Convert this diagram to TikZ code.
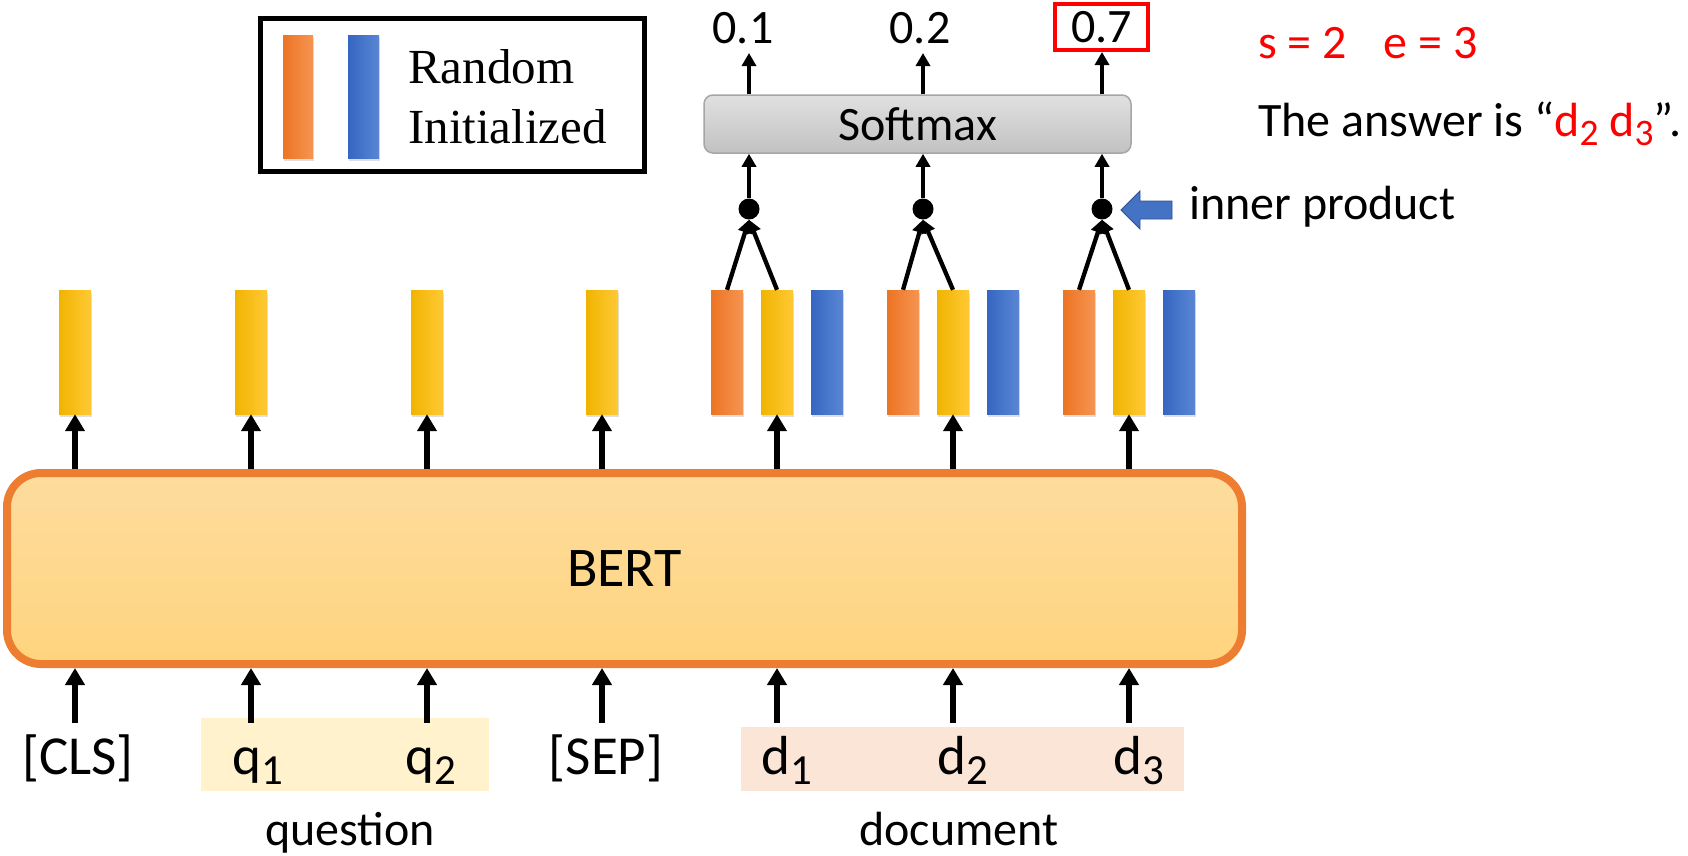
\documentclass[tikz,border=0pt]{standalone}
\usepackage{fontspec}
\usepackage{graphicx}
\setmainfont{Carlito}
\newfontfamily\timesf{Liberation Serif}
\usetikzlibrary{arrows.meta,shadows}
\definecolor{yelL}{HTML}{F0B400}
\definecolor{yelR}{HTML}{FFC935}
\definecolor{orgL}{HTML}{EC7424}
\definecolor{orgR}{HTML}{F59552}
\definecolor{bluL}{HTML}{3566C2}
\definecolor{bluR}{HTML}{5A86D3}
\definecolor{bertO}{HTML}{ED7D31}
\definecolor{bertT}{HTML}{FDDC9E}
\definecolor{bertB}{HTML}{FFD47E}
\definecolor{qfill}{HTML}{FFF2CC}
\definecolor{dfill}{HTML}{FBE5D6}
\definecolor{ipblue}{HTML}{4472C4}
\definecolor{ipedge}{HTML}{2F528F}
\newcommand\sbs[1]{\raisebox{-0.19em}{\scalebox{0.78}{#1}}}
\begin{document}
\begin{tikzpicture}[x=1pt,y=-1pt,
  bar/.style={minimum width=32pt,minimum height=124pt,inner sep=0pt,
    drop shadow={shadow xshift=0.5pt,shadow yshift=-3pt,opacity=0.25}},
  ybar/.style={bar,left color=yelL,right color=yelR},
  obar/.style={bar,left color=orgL,right color=orgR},
  bbar/.style={bar,left color=bluL,right color=bluR},
  bigarr/.style={line width=5.5pt,-{Triangle[width=19pt,length=17pt]}},
  smallarr/.style={line width=4.3pt,-{Triangle[width=14pt,length=13pt]}},
  tok/.style={font=\fontsize{55}{62}\selectfont,inner xsep=0pt,inner ysep=10pt,
    anchor=base,text height=41pt,text depth=12pt},
  dotn/.style={circle,fill=black,minimum size=21pt,inner sep=0pt},
  numn/.style={minimum width=93pt,minimum height=46pt,inner sep=0pt,line width=4pt},
  txt/.style={font=\fontsize{48}{58}\selectfont,inner sep=0pt,anchor=base west},
  hl/.style={inner sep=0pt}
]
\fill[white] (0,0) rectangle (1688,855);
\useasboundingbox (0,0) rectangle (1688,855);

% highlight boxes
\node[hl,fill=qfill,minimum width=288pt,minimum height=73pt] (qbox) at (345,754.5) {};
\node[hl,fill=dfill,minimum width=443pt,minimum height=64pt] (dbox) at (962.5,759) {};

% BERT
\node[draw=bertO,line width=8pt,rounded corners=34pt,top color=bertT,bottom color=bertB,
  minimum width=1235pt,minimum height=191pt,font=\fontsize{56}{60}\selectfont] (bert) at (624.5,568.5) {BERT};

% yellow bars
\node[ybar] (y1) at (75,352) {};
\node[ybar] (y2) at (251,352) {};
\node[ybar] (y3) at (427,352) {};
\node[ybar] (y4) at (602,352) {};
\node[ybar] (y5) at (777,352) {};
\node[ybar] (y6) at (953,352) {};
\node[ybar] (y7) at (1129,352) {};
% orange / blue bars
\node[obar] (o5) at (727,352) {};
\node[obar] (o6) at (903,352) {};
\node[obar] (o7) at (1079,352) {};
\node[bbar] (b5) at (827,352) {};
\node[bbar] (b6) at (1003,352) {};
\node[bbar] (b7) at (1179,352) {};

% tokens
\node[tok] (t1) at (78,774) {[CLS]};
\node[tok] (t2) at (258,774) {q\sbs{1}};
\node[tok] (t3) at (431,774) {q\sbs{2}};
\node[tok] (t4) at (606,774) {[SEP]};
\node[tok] (t5) at (787,774) {d\sbs{1}};
\node[tok] (t6) at (963,774) {d\sbs{2}};
\node[tok] (t7) at (1139,774) {d\sbs{3}};
\node[txt,anchor=base] (qlab) at (350,845) {question};
\node[txt,anchor=base] (dlab) at (959,845) {document};

% arrows into BERT and out of BERT
\foreach \i in {1,...,7}{
  \draw[bigarr] (t\i.north -| y\i) -- (bert.south -| y\i);
  \draw[bigarr] (bert.north -| y\i) -- (y\i.south);
}

% dots
\node[dotn] (p5) at (749,209) {};
\node[dotn] (p6) at (923,209) {};
\node[dotn] (p7) at (1102,209) {};
\foreach \i in {5,6,7}{
  \draw[smallarr] (o\i.north) -- (p\i.south);
  \draw[smallarr] (y\i.north) -- (p\i.south);
}

% softmax
\node[draw=black!35,line width=1.5pt,rounded corners=9pt,top color=black!12,bottom color=black!24,
  minimum width=427pt,minimum height=58pt,font=\fontsize{48}{58}\selectfont] (sm) at (917.5,124) {Softmax};
\foreach \i in {5,6,7}{
  \draw[smallarr] (p\i.north) -- (p\i.north |- sm.south);
}

% outputs
\node[numn,font=\fontsize{48}{58}\selectfont] (n5) at (743,28) {0.1};
\node[numn,font=\fontsize{48}{58}\selectfont] (n6) at (920,28) {0.2};
\node[numn,draw=red,font=\fontsize{48}{58}\selectfont] (n7) at (1101.5,27) {0.7};
\foreach \i in {5,6,7}{
  \draw[smallarr] (sm.north -| p\i) -- (n\i.south -| p\i);
}

% inner product arrow (block arrow pointing left)
\filldraw[fill=ipblue,draw=ipedge,line width=0.8pt]
  (1121,210) -- (1140,191) -- (1140,201) -- (1172,201) -- (1172,219) -- (1140,219) -- (1140,229) -- cycle;
\node[txt] (ip) at (1189,219) {inner product};

% answer text
\node[txt,text=red] (se) at (1258,58) {s = 2\hspace{37pt}e = 3};
\node[txt] (ans) at (1258,136) {The answer is “\textcolor{red}{d\sbs{2} d\sbs{3}}”.};

% legend
\node[draw=black,line width=5pt,minimum width=384pt,minimum height=153pt,inner sep=0pt] (leg) at (452.5,95) {};
\node[obar,minimum width=30pt,minimum height=123pt] (lo) at (298,96.5) {};
\node[bbar,minimum width=31pt,minimum height=123pt] (lb) at (363.5,96.5) {};
\node[inner sep=0pt,anchor=base west,font=\timesf\fontsize{49}{58}\selectfont] (lr) at (408,83) {Random};
\node[inner sep=0pt,anchor=base west,font=\timesf\fontsize{49}{58}\selectfont] (li) at (408,143) {Initialized};
\end{tikzpicture}
\end{document}
